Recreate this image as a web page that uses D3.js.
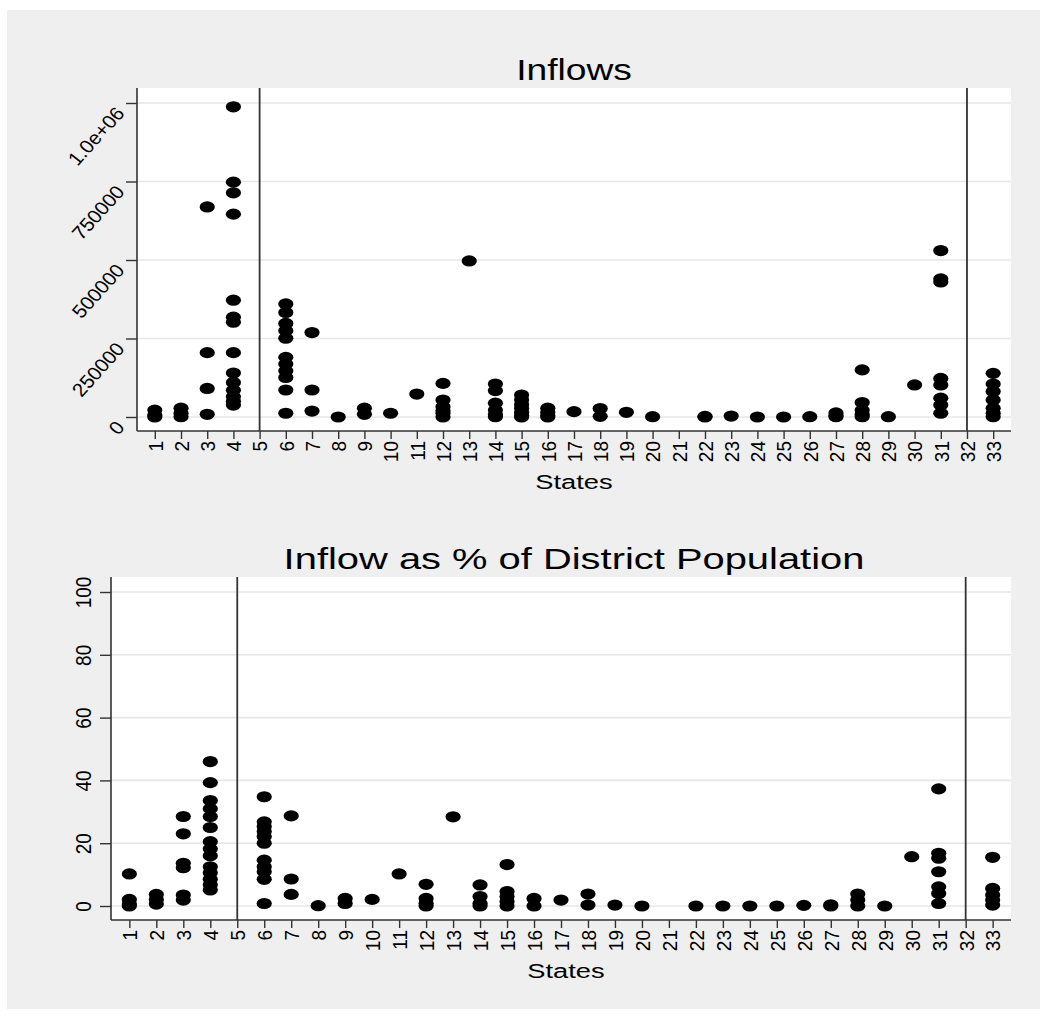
<!DOCTYPE html>
<html>
<head>
<meta charset="utf-8">
<script src="https://cdn.jsdelivr.net/npm/d3@7"></script>
<style>
  html, body { margin: 0; padding: 0; background: #ffffff; }
  svg { display: block; }
  text { font-family: "Liberation Sans", Arial, Helvetica, sans-serif; fill: #000; }
</style>
</head>
<body>
<svg id="chart" width="1048" height="1019"></svg>
<script>
// ---------------- Data ----------------
const states = d3.range(1, 34);
const xTickLabels = states.map(String);
const refLines = [5, 32];

// Inflows per state (absolute)
const inflows = {
  1: [0, 6000, 22000],
  2: [1000, 12000, 28000],
  3: [8600, 91000, 205000, 669000],
  4: [988000, 748000, 714000, 646000, 372000, 318000, 302000, 205000, 140000, 110000, 85000, 65000, 50000, 38000],
  6: [360000, 333000, 298000, 275000, 251000, 190000, 169000, 147000, 126000, 86000, 12000],
  7: [269000, 86000, 19000],
  8: [0],
  9: [8600, 28000],
  10: [12000],
  11: [73000],
  12: [107000, 54000, 33000, 20000, 12000, 0],
  13: [497000],
  14: [105000, 84000, 44000, 22000, 8000, 1000],
  15: [70000, 55000, 40000, 28000, 15000, 5000, 0],
  16: [28000, 15000, 5000, 0],
  17: [17000],
  18: [27000, 2000],
  19: [15000],
  20: [1000],
  22: [0, 2000],
  23: [3000],
  24: [0],
  25: [0],
  26: [1000],
  27: [13000, 5000, 1000],
  28: [150000, 46000, 22000, 8000, 1000],
  29: [1000],
  30: [102000],
  31: [530000, 440000, 430000, 123000, 102000, 60000, 38000, 12000],
  33: [139000, 105000, 81000, 54000, 28000, 12000, 1000]
};

// Inflow as % of district population
const shares = {
  1: [10.2, 2.1, 0.6, 0],
  2: [3.7, 2.0, 0.6],
  3: [28.5, 23.0, 13.6, 12.2, 3.5, 1.9],
  4: [46.0, 39.3, 33.6, 31.0, 28.5, 25.0, 20.5, 18.2, 16.0, 12.5, 10.6, 8.5, 6.8, 5.1],
  6: [34.8, 26.8, 25.3, 23.7, 22.1, 20.0, 14.6, 12.5, 10.9, 8.5, 0.8],
  7: [28.7, 8.6, 3.7],
  8: [0.1],
  9: [2.4, 0.8],
  10: [2.1],
  11: [10.2],
  12: [6.9, 2.4, 0.8, 0],
  13: [28.4],
  14: [6.7, 3.0, 0.8, 0],
  15: [13.2, 4.6, 3.0, 1.4, 0],
  16: [2.4, 0],
  17: [1.9],
  18: [3.8, 0.3],
  19: [0.3],
  20: [0],
  22: [0],
  23: [0],
  24: [0],
  25: [0],
  26: [0.2],
  27: [0.4, 0],
  28: [3.8, 1.9, 0],
  29: [0],
  30: [15.7],
  31: [37.3, 16.8, 15.2, 10.9, 6.1, 4.0, 0.8],
  33: [15.5, 5.6, 3.5, 1.9, 0.3]
};

const inflowTicks = [0, 250000, 500000, 750000, 1000000];
const inflowTickLabels = ["0", "250000", "500000", "750000", "1.0e+06"];
const shareTicks = [0, 20, 40, 60, 80, 100];
const shareTickLabels = ["0", "20", "40", "60", "80", "100"];

const titles = ["Inflows", "Inflow as % of District Population"];
const xTitle = "States";

// ---------------- Drawing ----------------
const svg = d3.select("#chart");
svg.append("rect").attr("x", 7).attr("y", 10).attr("width", 1033).attr("height", 999).attr("fill", "#efefef");

function flatten(obj) {
  const out = [];
  Object.keys(obj).forEach(k => obj[k].forEach(v => out.push({ s: +k, v })));
  return out;
}

function panel(cfg) {
  const { left, right, top, bottom, yDomain, ticks, tickLabels, data, title, titleScale, titleX, xTitleX, yRotate } = cfg;
  const g = svg.append("g");
  const x = d3.scaleLinear().domain([1 - 0.68, 33 + 0.68]).range([left, right]);
  const y = d3.scaleLinear().domain(yDomain).range([bottom, top]);

  g.append("rect").attr("x", left).attr("y", top).attr("width", right - left).attr("height", bottom - top).attr("fill", "#fff");

  // grid
  g.selectAll(".grid").data(ticks).enter().append("line")
    .attr("x1", left).attr("x2", right)
    .attr("y1", d => y(d)).attr("y2", d => y(d))
    .attr("stroke", "#e6e6e6").attr("stroke-width", 1.6);

  // reference lines
  g.selectAll(".ref").data(refLines).enter().append("line")
    .attr("x1", d => x(d)).attr("x2", d => x(d))
    .attr("y1", top).attr("y2", bottom)
    .attr("stroke", "#333").attr("stroke-width", 1.8);

  // points
  g.selectAll(".pt").data(data).enter().append("ellipse")
    .attr("cx", d => x(d.s)).attr("cy", d => y(d.v))
    .attr("rx", 7.6).attr("ry", 5.6).attr("fill", "#000");

  // y axis
  const yAxis = d3.axisLeft(y).tickValues(ticks).tickFormat((d, i) => tickLabels[i]).tickSize(11).tickSizeOuter(0);
  const ya = g.append("g").attr("transform", `translate(${left},0)`).call(yAxis);
  ya.select(".domain").remove();
  ya.selectAll(".tick line").attr("stroke", "#333").attr("stroke-width", 1.4);
  ya.selectAll(".tick text").attr("font-size", 19).attr("fill", "#000");
  if (yRotate === -45) {
    ya.selectAll(".tick text")
      .attr("x", null).attr("dy", null)
      .attr("text-anchor", "end")
      .attr("dominant-baseline", "central")
      .attr("transform", "translate(-17,6) scale(1.08,1) rotate(-50)");
  } else {
    ya.selectAll(".tick text")
      .attr("x", null).attr("dy", null)
      .attr("text-anchor", "middle")
      .attr("transform", "translate(-20,0) scale(1.15,1) rotate(-90)");
  }
  g.append("line").attr("x1", left).attr("x2", left).attr("y1", top).attr("y2", bottom)
    .attr("stroke", "#333").attr("stroke-width", 1.6);

  // x axis
  const xAxis = d3.axisBottom(x).tickValues(states).tickFormat((d, i) => xTickLabels[i]).tickSize(8).tickSizeOuter(0);
  const xa = g.append("g").attr("transform", `translate(0,${bottom})`).call(xAxis);
  xa.select(".domain").remove();
  xa.selectAll(".tick line").attr("stroke", "#333").attr("stroke-width", 1.4);
  xa.selectAll(".tick text")
    .attr("font-size", 19).attr("fill", "#000")
    .attr("y", null).attr("dy", null)
    .attr("text-anchor", "end")
    .attr("dominant-baseline", "central")
    .attr("transform", "translate(0,10) scale(1.1,1) rotate(-90)");
  g.append("line").attr("x1", left).attr("x2", right).attr("y1", bottom).attr("y2", bottom)
    .attr("stroke", "#333").attr("stroke-width", 1.6);

  // titles (reference glyphs are horizontally stretched)
  g.append("text").attr("transform", `translate(${titleX},${top - 19}) scale(${titleScale},1)`)
    .attr("text-anchor", "middle").attr("dominant-baseline", "central")
    .attr("font-size", 30).text(title);
  g.append("text").attr("transform", `translate(${xTitleX},${bottom + 51}) scale(1.3,1)`)
    .attr("text-anchor", "middle").attr("dominant-baseline", "central")
    .attr("font-size", 21).text(xTitle);
}

panel({
  left: 137, right: 1011, top: 88, bottom: 431,
  yDomain: [-44600, 1047800], ticks: inflowTicks, tickLabels: inflowTickLabels,
  data: flatten(inflows), title: titles[0], titleScale: 1.24, titleX: 574, xTitleX: 574, yRotate: -45
});
panel({
  left: 111, right: 1011, top: 577, bottom: 920,
  yDomain: [-4.46, 104.78], ticks: shareTicks, tickLabels: shareTickLabels,
  data: flatten(shares), title: titles[1], titleScale: 1.33, titleX: 574, xTitleX: 566, yRotate: -90
});
</script>
</body>
</html>
